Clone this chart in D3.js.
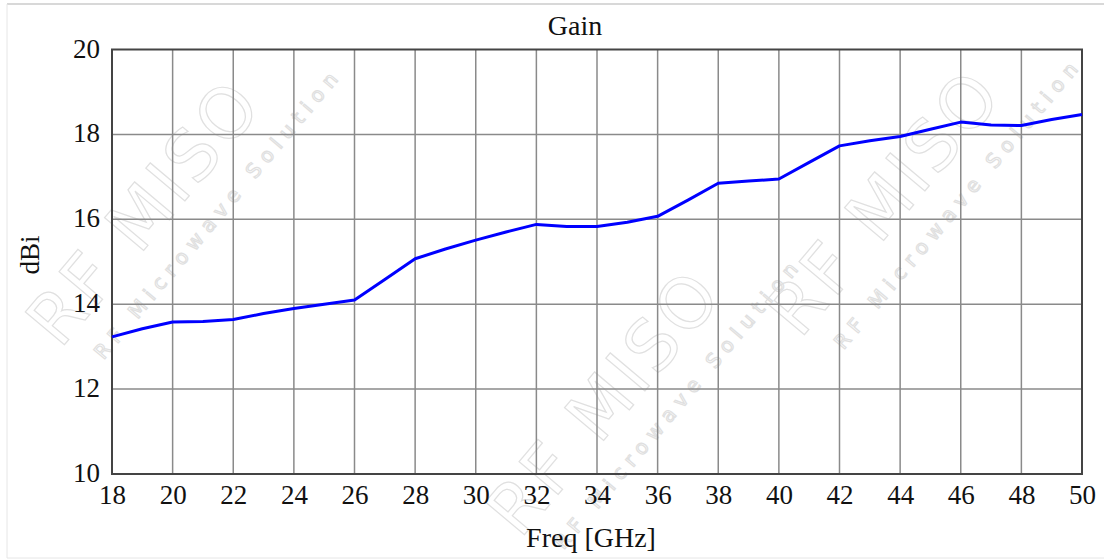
<!DOCTYPE html>
<html>
<head>
<meta charset="utf-8">
<script src="https://cdn.jsdelivr.net/npm/d3@7"></script>
<style>
  body { margin: 0; background: #fff; }
  svg text { font-family: "Liberation Serif", "Times New Roman", serif; }
</style>
</head>
<body>
<div id="chart"></div>
<script>
// Gain data
const freq = [18, 19, 20, 21, 22, 23, 24, 25, 26, 27, 28, 29, 30, 31, 32, 33, 34,
              35, 36, 37, 38, 39, 40, 41, 42, 43, 44, 45, 46, 47, 48, 49, 50];
const gain = [13.23, 13.42, 13.58, 13.59, 13.64, 13.78, 13.90, 14.00, 14.10, 14.58, 15.07,
              15.30, 15.51, 15.70, 15.88, 15.83, 15.83, 15.93, 16.07, 16.45, 16.85, 16.90,
              16.95, 17.34, 17.73, 17.85, 17.95, 18.12, 18.29, 18.22, 18.21, 18.35, 18.47];
const xTicks = [18, 20, 22, 24, 26, 28, 30, 32, 34, 36, 38, 40, 42, 44, 46, 48, 50];
const yTicks = [10, 12, 14, 16, 18, 20];

let width = 1104, height = 559;
let margin = { top: 49.5, right: 22, bottom: 85, left: 112 };
let innerW = width - margin.left - margin.right,
    innerH = height - margin.top - margin.bottom;

let svg = d3.select('#chart').append('svg')
    .attr('width', width)
    .attr('height', height);

// image frame
svg.append('line').attr('x1', 7).attr('x2', width).attr('y1', 4).attr('y2', 4)
    .attr('stroke', '#d8d8d8').attr('stroke-width', 2);
svg.append('line').attr('x1', 7).attr('x2', 7).attr('y1', 4).attr('y2', 558)
    .attr('stroke', '#e6e6e6').attr('stroke-width', 1);
svg.append('line').attr('x1', 7).attr('x2', width).attr('y1', 558).attr('y2', 558)
    .attr('stroke', '#e6e6e6').attr('stroke-width', 1);

// faint watermark
let wm = svg.append('g').attr('fill', 'none').attr('stroke', '#e0e0e0').attr('stroke-width', 1.2);
function watermark(x, y, angle) {
  let w = wm.append('g').attr('transform', `translate(${x},${y}) rotate(${angle})`);
  w.append('text').style('font-family', '"DejaVu Sans", sans-serif')
    .attr('font-size', 70).attr('letter-spacing', 4).text('RF MISO');
  w.append('text').style('font-family', '"DejaVu Sans", sans-serif')
    .attr('y', 40).attr('x', 20).attr('font-size', 20).attr('letter-spacing', 7)
    .text('RF Microwave Solution');
}
watermark(60, 350, -50);
watermark(520, 540, -50);
watermark(800, 340, -50);

let g = svg.append('g')
    .attr('transform', `translate(${margin.left},${margin.top})`);

let x = d3.scaleLinear().domain([18, 50]).range([0, innerW]);
let y = d3.scaleLinear().domain([10, 20]).range([innerH, 0]);

// grid
g.append('g').selectAll('line').data(xTicks.slice(1, -1)).join('line')
    .attr('x1', (d) => x(d)).attr('x2', (d) => x(d))
    .attr('y1', 0).attr('y2', innerH)
    .attr('stroke', '#8a8a8a').attr('stroke-width', 1.5);
g.append('g').selectAll('line').data(yTicks.slice(1, -1)).join('line')
    .attr('x1', 0).attr('x2', innerW)
    .attr('y1', (d) => y(d)).attr('y2', (d) => y(d))
    .attr('stroke', '#8a8a8a').attr('stroke-width', 1.5);

// axes (labels only)
let xAxis = g.append('g').attr('transform', `translate(0,${innerH})`)
    .call(d3.axisBottom(x).tickValues(xTicks).tickSize(0).tickPadding(10).tickFormat(d3.format('d')));
let yAxis = g.append('g')
    .call(d3.axisLeft(y).tickValues(yTicks).tickSize(0).tickPadding(12).tickFormat(d3.format('d')));
[xAxis, yAxis].forEach((a) => {
  a.select('.domain').remove();
  a.selectAll('text').attr('font-size', 27).attr('fill', '#111')
    .attr('font-family', '"Liberation Serif", serif');
});
xAxis.selectAll('text').attr('dy', '0.75em');
yAxis.selectAll('text').attr('dy', '0.28em');

// plot border
g.append('rect').attr('width', innerW).attr('height', innerH)
    .attr('fill', 'none').attr('stroke', '#444').attr('stroke-width', 2);

// gain line
let line = d3.line().x((d, i) => x(freq[i])).y((d) => y(d));
g.append('path').datum(gain)
    .attr('d', line)
    .attr('fill', 'none')
    .attr('stroke', '#0000ff')
    .attr('stroke-width', 3)
    .attr('stroke-linejoin', 'round');

// titles
svg.append('text').attr('x', margin.left + innerW / 2 - 22).attr('y', 35)
    .attr('text-anchor', 'middle').attr('font-size', 28).attr('fill', '#111').text('Gain');
svg.append('text').attr('x', margin.left + innerW / 2 - 6).attr('y', 547)
    .attr('text-anchor', 'middle').attr('font-size', 28).attr('fill', '#111').text('Freq [GHz]');
svg.append('text').attr('transform', 'translate(39,255) rotate(-90)')
    .attr('text-anchor', 'middle').attr('font-size', 27).attr('fill', '#111').text('dBi');
</script>
</body>
</html>
